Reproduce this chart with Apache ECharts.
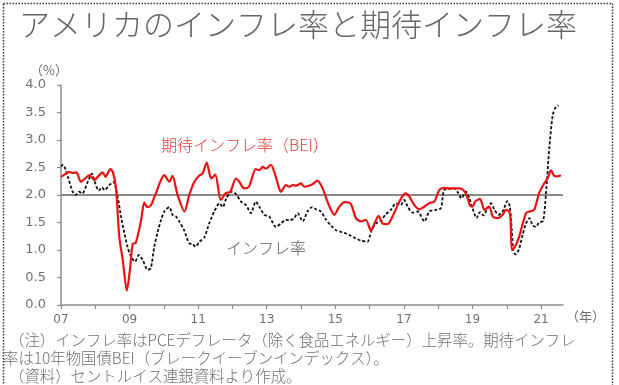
<!DOCTYPE html>
<html>
<head>
<meta charset="utf-8">
<script src="https://cdn.jsdelivr.net/npm/echarts@6/dist/echarts.min.js"></script>
<style>
  html, body { margin: 0; padding: 0; background: #fff; }
  #chart { width: 619px; height: 385px; }
</style>
</head>
<body>
<div id="chart"></div>
<script>
// 期待インフレ率（10年物BEI）: 年（小数）と値（%）
const beiYears = [
  2007.00, 2007.12, 2007.24, 2007.35, 2007.45, 2007.58, 2007.70, 2007.83, 2007.97,
  2008.07, 2008.21, 2008.30, 2008.44, 2008.51, 2008.60, 2008.70, 2008.80, 2008.92,
  2009.01, 2009.09, 2009.18, 2009.33, 2009.43, 2009.52, 2009.62, 2009.72, 2009.80, 2009.88,
  2010.01, 2010.16, 2010.25, 2010.40, 2010.60, 2010.74, 2010.89,
  2011.03, 2011.13, 2011.25, 2011.38, 2011.50, 2011.66, 2011.80, 2011.94,
  2012.10, 2012.20, 2012.34, 2012.48, 2012.68, 2012.78, 2012.88, 2012.98,
  2013.12, 2013.22, 2013.32, 2013.41, 2013.56, 2013.66, 2013.76, 2013.86,
  2014.00, 2014.10, 2014.29, 2014.48, 2014.63, 2014.77, 2014.97,
  2015.11, 2015.26, 2015.45, 2015.60, 2015.75, 2015.89,
  2016.04, 2016.14, 2016.26, 2016.38, 2016.52, 2016.67, 2016.82, 2016.92,
  2017.04, 2017.16, 2017.30, 2017.45, 2017.60, 2017.74, 2017.89,
  2018.03, 2018.17, 2018.32, 2018.47, 2018.62, 2018.76, 2018.86, 2018.92,
  2019.00, 2019.08, 2019.22, 2019.35, 2019.49, 2019.59, 2019.74, 2019.88, 2019.97,
  2020.07, 2020.11, 2020.15, 2020.24, 2020.36, 2020.56, 2020.66, 2020.80, 2020.94,
  2021.09, 2021.19, 2021.29, 2021.38, 2021.48, 2021.58
];
const beiValues = [
  2.33, 2.38, 2.42, 2.40, 2.41, 2.24, 2.30, 2.36, 2.27,
  2.33, 2.41, 2.33, 2.47, 2.42, 2.15, 1.24, 0.82, 0.26,
  0.64, 1.11, 1.13, 1.52, 1.86, 1.78, 1.81, 1.96, 2.08, 2.22,
  2.36, 2.24, 2.35, 2.00, 1.70, 2.00, 2.24,
  2.35, 2.39, 2.59, 2.30, 2.37, 1.91, 2.03, 2.06,
  2.30, 2.24, 2.12, 2.15, 2.47, 2.45, 2.51, 2.48,
  2.55, 2.42, 2.21, 2.06, 2.18, 2.15, 2.18, 2.17,
  2.21, 2.15, 2.18, 2.26, 2.12, 1.88, 1.64,
  1.78, 1.87, 1.84, 1.58, 1.52, 1.55,
  1.35, 1.48, 1.62, 1.48, 1.47, 1.61, 1.82, 1.94,
  2.03, 1.97, 1.82, 1.74, 1.79, 1.85, 1.88,
  2.09, 2.13, 2.12, 2.12, 2.12, 2.07, 1.94, 1.82,
  1.79, 1.88, 1.93, 1.73, 1.79, 1.61, 1.58, 1.64, 1.73,
  1.70, 1.55, 1.00, 1.06, 1.24, 1.67, 1.70, 1.73, 2.03,
  2.21, 2.30, 2.45, 2.35, 2.34, 2.36
];

// インフレ率（PCEデフレータ、除く食品エネルギー）
const pceYears = [
  2007.00, 2007.06, 2007.20, 2007.34, 2007.43, 2007.52, 2007.62, 2007.78, 2007.90,
  2008.00, 2008.10, 2008.20, 2008.27, 2008.41, 2008.53, 2008.65, 2008.75, 2008.85, 2008.94,
  2009.04, 2009.16, 2009.27, 2009.38, 2009.53, 2009.62, 2009.72, 2009.82, 2009.92,
  2010.01, 2010.16, 2010.25, 2010.35, 2010.45, 2010.59, 2010.74, 2010.84, 2010.92,
  2011.04, 2011.18, 2011.32, 2011.47, 2011.62, 2011.72, 2011.82, 2011.98,
  2012.10, 2012.25, 2012.39, 2012.54, 2012.68, 2012.78, 2012.93,
  2013.07, 2013.27, 2013.41, 2013.56, 2013.66, 2013.80, 2013.90,
  2014.05, 2014.19, 2014.32, 2014.44, 2014.58, 2014.73, 2014.88,
  2015.02, 2015.16, 2015.31, 2015.45, 2015.60, 2015.75, 2015.94,
  2016.04, 2016.18, 2016.33, 2016.46, 2016.62, 2016.77, 2016.91,
  2017.01, 2017.11, 2017.25, 2017.40, 2017.60, 2017.74, 2017.93,
  2018.08, 2018.17, 2018.32, 2018.47, 2018.57, 2018.68, 2018.81, 2018.91,
  2019.00, 2019.12, 2019.22, 2019.32, 2019.44, 2019.54, 2019.64, 2019.76, 2019.88,
  2020.02, 2020.09, 2020.15, 2020.19, 2020.25, 2020.35, 2020.46, 2020.56, 2020.66,
  2020.75, 2020.85, 2020.94,
  2021.06, 2021.14, 2021.24, 2021.34, 2021.43, 2021.51
];
const pceValues = [
  2.52, 2.55, 2.33, 2.06, 2.00, 2.06, 2.03, 2.24, 2.39,
  2.21, 2.08, 2.14, 2.09, 2.18, 2.24, 1.97, 1.61, 1.30, 1.06,
  0.88, 0.79, 0.91, 0.82, 0.64, 0.67, 1.06, 1.33, 1.55,
  1.70, 1.78, 1.64, 1.61, 1.52, 1.36, 1.12, 1.11, 1.06,
  1.15, 1.23, 1.48, 1.70, 1.85, 1.78, 1.94, 2.06,
  2.02, 1.88, 1.82, 1.67, 1.88, 1.79, 1.64,
  1.61, 1.42, 1.48, 1.55, 1.54, 1.58, 1.67,
  1.52, 1.70, 1.78, 1.74, 1.70, 1.55, 1.44,
  1.36, 1.33, 1.30, 1.26, 1.21, 1.17, 1.15,
  1.33, 1.48, 1.53, 1.64, 1.73, 1.85, 1.82,
  1.91, 1.79, 1.68, 1.70, 1.52, 1.70, 1.73,
  1.76, 2.09, 2.11, 2.12, 2.05, 1.94, 2.06, 1.94,
  1.76, 1.58, 1.69, 1.63, 1.76, 1.85, 1.73, 1.64, 1.70,
  1.89, 1.79, 1.33, 1.00, 0.92, 1.00, 1.27, 1.48, 1.58,
  1.45, 1.42, 1.50,
  1.53, 2.00, 2.85, 3.45, 3.60, 3.63
];

// 軸の目盛り
const yTicks = [0, 0.5, 1.0, 1.5, 2.0, 2.5, 3.0, 3.5, 4.0];
const yearStart = 2007;
const yearEnd = 2021.64;
const referenceLevel = 2.0;

const titleText = 'アメリカのインフレ率と期待インフレ率';
const beiLabel = '期待インフレ率（BEI）';
const pceLabel = 'インフレ率';
const notes = [
  '（注）インフレ率はPCEデフレータ（除く食品エネルギー）上昇率。期待インフレ',
  '率は10年物国債BEI（ブレークイーブンインデックス）。',
  '（資料）セントルイス連銀資料より作成。'
];

const zip = (xs, ys) => xs.map((x, i) => [x, ys[i]]);

const jp = '"Noto Sans CJK JP", "Noto Sans", sans-serif';
const num = '"DejaVu Sans", "Noto Sans", sans-serif';
const axisGray = '#8c8c8c';
const textGray = '#707070';

const chart = echarts.init(document.getElementById('chart'), null, { renderer: 'canvas' });

chart.setOption({
  animation: false,
  backgroundColor: '#ffffff',
  grid: { left: 61, right: 56, top: 85, bottom: 80 },
  xAxis: {
    type: 'value',
    min: yearStart,
    max: yearEnd,
    interval: 1,
    axisLine: { show: true, onZero: false, lineStyle: { color: axisGray, width: 1.5 } },
    axisTick: { show: true, inside: false, length: 4, lineStyle: { color: axisGray, width: 1.2 } },
    splitLine: { show: false },
    axisLabel: {
      margin: 9,
      color: textGray,
      fontFamily: num,
      fontSize: 12,
      showMaxLabel: false,
      formatter: v => (Math.round(v) % 2 === 1 ? String(Math.round(v)).slice(2) : '')
    }
  },
  yAxis: {
    type: 'value',
    min: yTicks[0],
    max: yTicks[yTicks.length - 1],
    interval: yTicks[1] - yTicks[0],
    axisLine: { show: true, lineStyle: { color: axisGray, width: 1.5 } },
    axisTick: { show: true, inside: false, length: 4, lineStyle: { color: axisGray, width: 1.2 } },
    splitLine: { show: false },
    axisLabel: {
      margin: 15,
      color: textGray,
      fontFamily: num,
      fontSize: 13,
      formatter: v => v.toFixed(1)
    }
  },
  series: [
    {
      name: pceLabel,
      type: 'line',
      data: zip(pceYears, pceValues),
      showSymbol: false,
      smooth: 0.25,
      z: 3,
      lineStyle: { color: '#111111', width: 1.8, type: [3, 2] },
      markLine: {
        silent: true,
        symbol: 'none',
        label: { show: false },
        lineStyle: { color: '#8a8a8a', width: 2, type: 'solid' },
        data: [{ yAxis: referenceLevel }],
        z: 1
      }
    },
    {
      name: beiLabel,
      type: 'line',
      data: zip(beiYears, beiValues),
      showSymbol: false,
      smooth: 0.25,
      z: 4,
      lineStyle: { color: '#ee1111', width: 2.2 }
    }
  ],
  graphic: [
    {
      type: 'rect',
      shape: { x: 3.5, y: 3.5, width: 609, height: 400 },
      style: { fill: 'none', stroke: '#333333', lineWidth: 1.5, lineDash: [1.5, 1.5] },
      silent: true
    },
    {
      type: 'text', left: 19, top: 9,
      style: { text: titleText, font: '200 31px ' + jp, fill: '#666666' }
    },
    {
      type: 'text', x: 49, y: 70,
      style: { text: '（%）', font: '13px ' + jp, fill: textGray, align: 'center', verticalAlign: 'middle' }
    },
    {
      type: 'text', x: 566, y: 316,
      style: { text: '（年）', font: '13px ' + jp, fill: textGray, verticalAlign: 'middle' }
    },
    {
      type: 'text', x: 161, y: 145,
      style: { text: beiLabel, font: '300 16px ' + jp, fill: '#e83a3a', verticalAlign: 'middle' }
    },
    {
      type: 'text', x: 226, y: 248,
      style: { text: pceLabel, font: '300 16px ' + jp, fill: '#5c5c5c', verticalAlign: 'middle' }
    },
    {
      type: 'text', x: 9, y: 340,
      style: { text: notes[0], font: '300 15.4px ' + jp, fill: textGray, verticalAlign: 'middle' }
    },
    {
      type: 'text', x: 3, y: 358,
      style: { text: notes[1], font: '300 15.4px ' + jp, fill: textGray, verticalAlign: 'middle' }
    },
    {
      type: 'text', x: 9, y: 376,
      style: { text: notes[2], font: '300 15.4px ' + jp, fill: textGray, verticalAlign: 'middle' }
    }
  ]
});
</script>
</body>
</html>
